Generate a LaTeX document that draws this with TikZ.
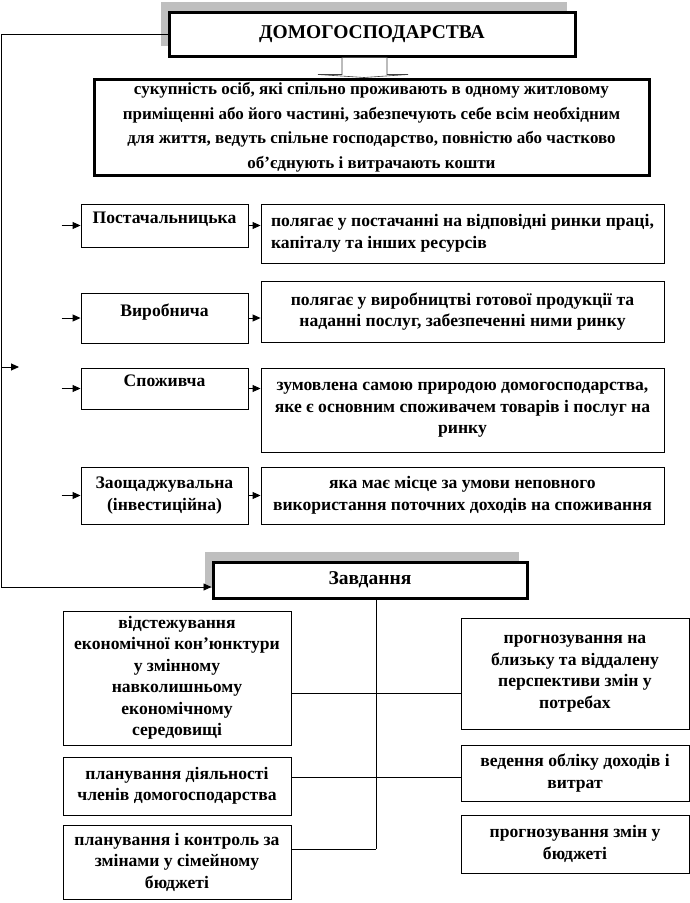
\documentclass[tikz,border=0pt]{standalone}
\usepackage{fontspec}
\setmainfont{Liberation Serif}
\usetikzlibrary{positioning,arrows.meta,shadows,calc}

\begin{document}
\begin{tikzpicture}[
  x=1pt, y=-1pt,
  font=\bfseries\fontsize{17.6}{21.5}\selectfont,
  box/.style={draw, line width=0.9pt, align=center, inner sep=2pt},
  headbox/.style={draw, line width=3pt, fill=white, align=center,
    font=\bfseries\fontsize{19.5}{22}\selectfont,
    general shadow={fill=black!25, shadow xshift=-8pt, shadow yshift=10pt}},
  defbox/.style={draw, line width=3pt, align=center,
    font=\bfseries\fontsize{17}{24.5}\selectfont},
  raised/.style={text depth=16pt},
  link/.style={line width=0.9pt},
  arr/.style={link, -{Triangle[length=8pt,width=7pt]}},
  hollow/.style={draw=black!75, line width=0.6pt, fill=white}
]
  \useasboundingbox (0,0) rectangle (690,903);

  % Head and definition
  \node[headbox, minimum width=406pt, minimum height=44pt] (title) at (372,34) {ДОМОГОСПОДАРСТВА};
  \node[defbox, minimum width=555pt, minimum height=94pt] (desc) at (371.5,127)
    {сукупність осіб, які спільно проживають в одному житловому\\
     приміщенні або його частині, забезпечують себе всім необхідним\\
     для життя, ведуть спільне господарство, повністю або частково\\
     об'єднують і витрачають кошти};
  \draw[hollow] ($(title.south)+(-30,0)$) -- ++(0,17) -- ++(-24,0)
    -- ($(desc.north)+(-7.5,0)$) -- ($(title.south)+(36,17)$)
    -- ++(-21,0) -- ++(0,-17) -- cycle;

  % Functions
  \node[box, raised, minimum width=167pt, minimum height=43pt] (f1) at (164.5,225.5) {Постачальницька};
  \node[box, raised, minimum width=167pt, minimum height=50pt] (f2) at (164.5,318) {Виробнича};
  \node[box, raised, minimum width=167pt, minimum height=41pt] (f3) at (164.5,388.5) {Споживча};
  \node[box, minimum width=167pt, minimum height=57pt] (f4) at (164.5,495.5) {Заощаджувальна\\(інвестиційна)};

  \node[box, align=left, minimum width=403pt, minimum height=59pt] (d1) at (462.5,233.5)
    {полягає у постачанні на відповідні ринки праці,\\капіталу та інших ресурсів};
  \node[box, minimum width=403pt, minimum height=61pt] (d2) at (462.5,311.5)
    {полягає у виробництві готової продукції та\\наданні послуг, забезпеченні ними ринку};
  \node[box, minimum width=403pt, minimum height=84pt] (d3) at (462.5,410)
    {зумовлена самою природою домогосподарства,\\яке є основним споживачем товарів і послуг на\\ринку};
  \node[box, minimum width=403pt, minimum height=57pt] (d4) at (462.5,495.5)
    {яка має місце за умови неповного\\використання поточних доходів на споживання};

  \foreach \i in {1,...,4} {
    \coordinate (s\i) at ($(f\i.west)+(-19,0)$);
    \draw[arr] (s\i) -- (f\i.west);
    \draw[arr] (f\i.east) -- (f\i.east -| d\i.west);
  }

  % Tasks
  \node[headbox, minimum width=314pt, minimum height=36pt] (zav) at (370,580) {Завдання};

  \node[box, minimum width=228pt, minimum height=134pt] (l1) at (177,678)
    {відстежування\\економічної кон'юнктури\\у змінному\\навколишньому\\економічному\\середовищі};
  \node[box, minimum width=228pt, minimum height=58pt] (l2) at (177,786)
    {планування діяльності\\членів домогосподарства};
  \node[box, minimum width=228pt, minimum height=74pt] (l3) at (177,862)
    {планування і контроль за\\змінами у сімейному\\бюджеті};
  \node[box, minimum width=228pt, minimum height=111pt] (r1) at (575,673.5)
    {прогнозування на\\близьку та віддалену\\перспективи змін у\\потребах};
  \node[box, minimum width=228pt, minimum height=56pt] (r2) at (575,773)
    {ведення обліку доходів і\\витрат};
  \node[box, minimum width=228pt, minimum height=58pt] (r3) at (575,844)
    {прогнозування змін у\\бюджеті};

  % Left loop
  \coordinate (lb) at (1,587);
  \coordinate (lm) at (1,367);
  \coordinate (lmend) at (19,367);
  \draw[arr] (title.west) -| (lb) -- (lb -| zav.west);
  \draw[arr] (lm) -- (lmend);

  % Spine
  \coordinate (sp) at (376,849);
  \coordinate (j1) at (376,693);
  \coordinate (j2) at (376,777);
  \draw[link] (zav.south -| sp) -- (sp);
  \draw[link] (j1 -| l1.east) -- (j1 -| r1.west);
  \draw[link] (j2 -| l2.east) -- (j2 -| r2.west);
  \draw[link] (sp -| l3.east) -- (sp);
\end{tikzpicture}
\end{document}
